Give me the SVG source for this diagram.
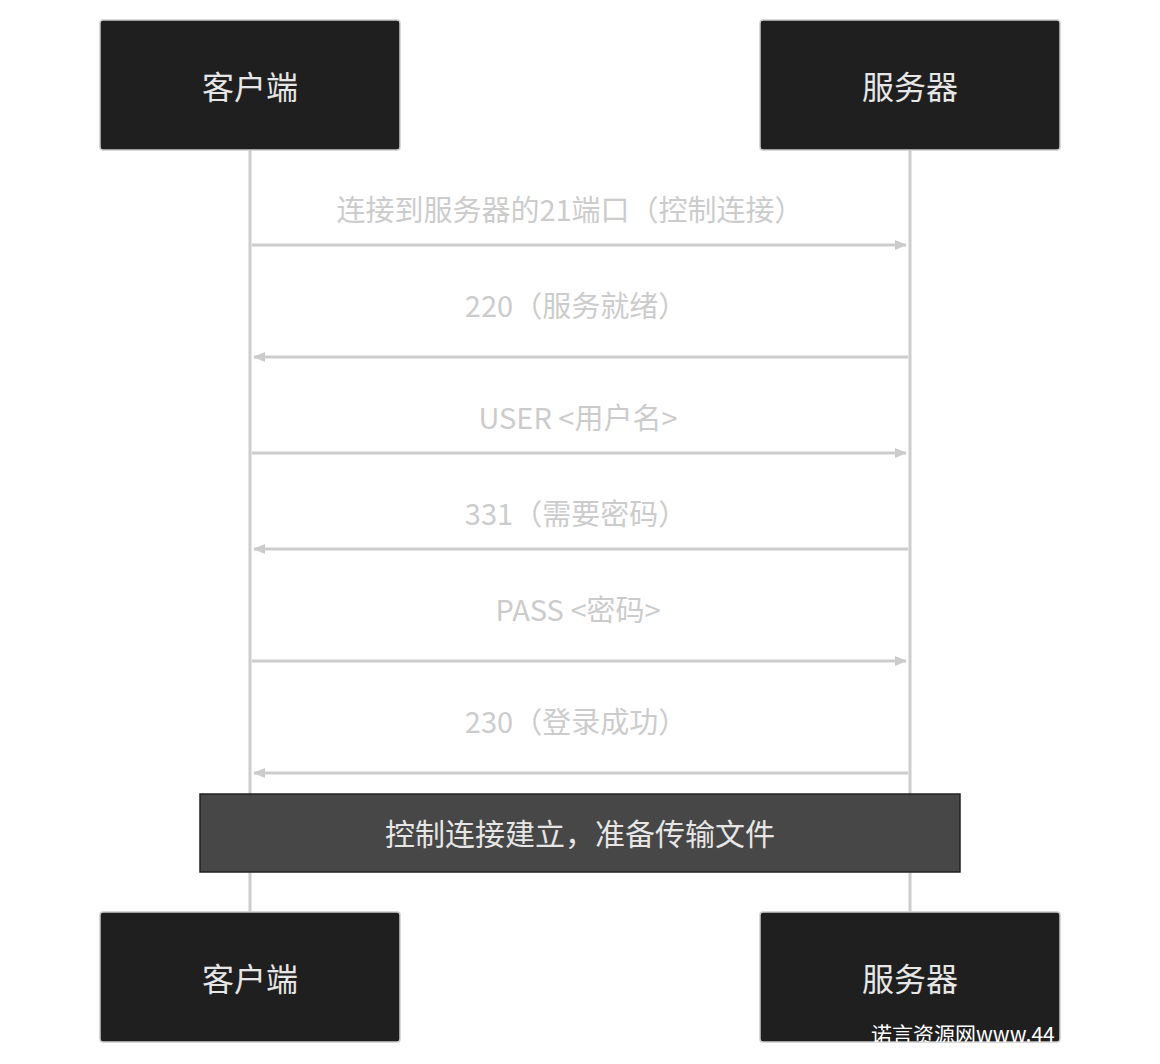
<svg xmlns="http://www.w3.org/2000/svg" width="1160" height="1064" viewBox="0 0 1160 1064">
<style>
.actor{fill:#1f1f1f;stroke:#cccccc;stroke-width:1.5}
.at{fill:#e6e6e6;font-family:"Noto Sans CJK SC",sans-serif;font-size:32px;text-anchor:middle;dominant-baseline:central}
.life{stroke:#cccccc;stroke-width:3}
.msg{stroke:#cccccc;stroke-width:3;fill:none;marker-end:url(#ah)}
.mt{fill:#cccccc;font-family:"Noto Sans CJK SC",sans-serif;font-size:29px;text-anchor:middle;dominant-baseline:central}
</style>
<defs>
<marker id="ah" markerWidth="12" markerHeight="10" refX="11" refY="5" orient="auto" markerUnits="userSpaceOnUse" viewBox="0 0 12 10"><path d="M0,0L12,5L0,10z" fill="#cccccc"/></marker>
<clipPath id="wm"><rect x="100" y="912" width="960" height="130"/></clipPath>
</defs>
<g id="lifelines">
<line class="life" x1="250" y1="150" x2="250" y2="912"/>
<line class="life" x1="910" y1="150" x2="910" y2="912"/>
</g>
<g id="client-top"><rect class="actor" x="100" y="20" width="300" height="130" rx="3"/><text class="at" x="250" y="85">客户端</text></g>
<g id="server-top"><rect class="actor" x="760" y="20" width="300" height="130" rx="3"/><text class="at" x="910" y="85">服务器</text></g>
<g id="connectors">
<text class="mt" x="570" y="208">连接到服务器的21端口（控制连接）</text>
<line class="msg" x1="252" y1="245" x2="906" y2="245"/>
<text class="mt" x="576" y="304">220（服务就绪）</text>
<line class="msg" x1="908" y1="357" x2="254" y2="357"/>
<text class="mt" x="578" y="416">USER &lt;用户名&gt;</text>
<line class="msg" x1="252" y1="453" x2="906" y2="453"/>
<text class="mt" x="576" y="512">331（需要密码）</text>
<line class="msg" x1="908" y1="549" x2="254" y2="549"/>
<text class="mt" x="578" y="608">PASS &lt;密码&gt;</text>
<line class="msg" x1="252" y1="661" x2="906" y2="661"/>
<text class="mt" x="576" y="720">230（登录成功）</text>
<line class="msg" x1="908" y1="773" x2="254" y2="773"/>
</g>
<g id="note"><rect x="200" y="794" width="760" height="78" fill="#474747" stroke="#222222" stroke-width="1.5"/><text class="at" x="580" y="832" font-size="30" style="font-size:30px">控制连接建立，准备传输文件</text></g>
<g id="client-bottom"><rect class="actor" x="100" y="912" width="300" height="130" rx="3"/><text class="at" x="250" y="977">客户端</text></g>
<g id="server-bottom"><rect class="actor" x="760" y="912" width="300" height="130" rx="3"/><text class="at" x="910" y="977">服务器</text></g>
<text x="871" y="1042" clip-path="url(#wm)" fill="#ffffff" font-family="'Noto Sans CJK SC',sans-serif" font-size="21">诺言资源网www.44</text>
</svg>
